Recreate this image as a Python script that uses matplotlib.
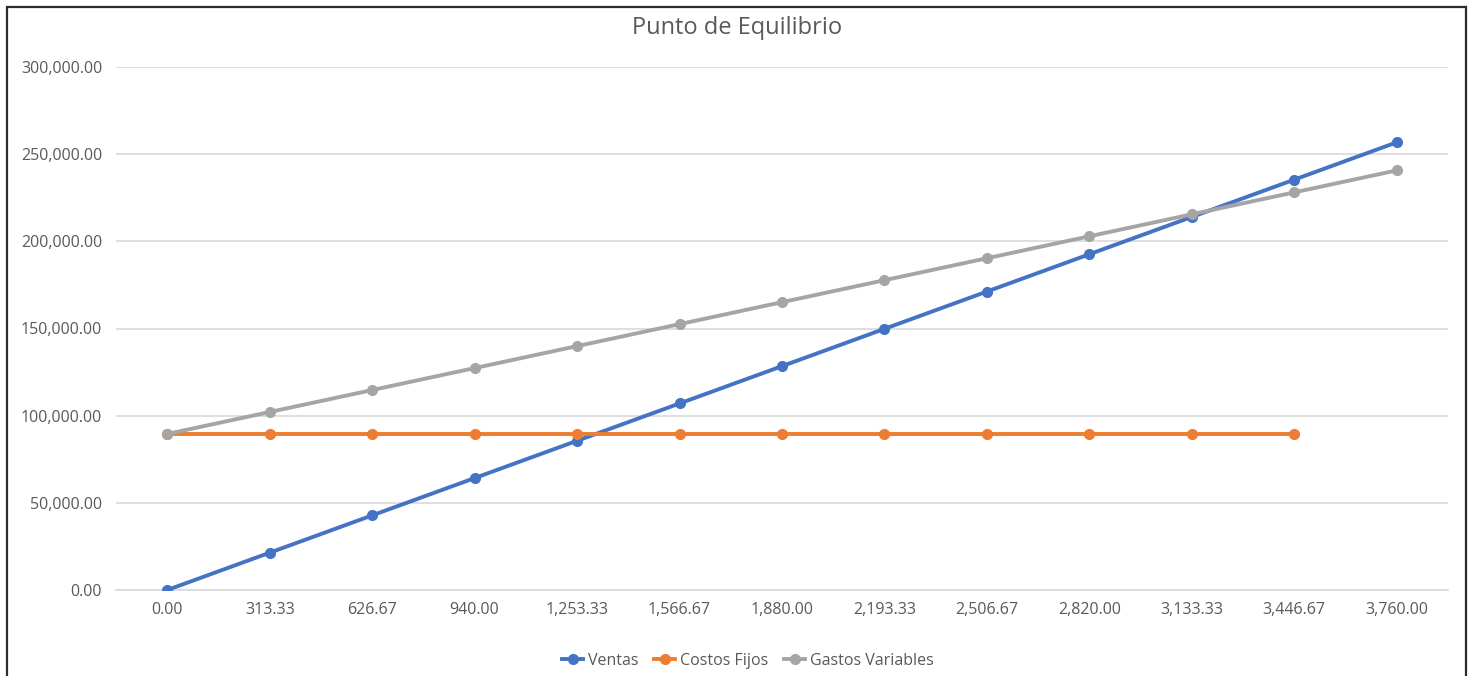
import matplotlib
matplotlib.use("Agg")
import matplotlib.pyplot as plt
from matplotlib.patches import Rectangle
from matplotlib.ticker import FuncFormatter

# Units (x categories)
unidades = ["0.00", "313.33", "626.67", "940.00", "1,253.33", "1,566.67", "1,880.00",
            "2,193.33", "2,506.67", "2,820.00", "3,133.33", "3,446.67", "3,760.00"]

ventas = [0, 21400, 42800, 64200, 85600, 107000, 128400, 149800,
          171200, 192600, 214000, 235400, 256800]
costos_fijos = [89500, 89500, 89500, 89500, 89500, 89500, 89500,
                89500, 89500, 89500, 89500, 89500]
gastos_variables = [89500, 102100, 114700, 127300, 139900, 152500, 165100,
                    177700, 190300, 202900, 215500, 228100, 240700]

series_names = ["Ventas", "Costos Fijos", "Gastos Variables"]
colors = ["#4472C4", "#ED7D31", "#A5A5A5"]
text_color = "#595959"
grid_color = "#D9D9D9"

plt.rcParams['font.family'] = ['Open Sans', 'DejaVu Sans']

fig = plt.figure(figsize=(14.76, 6.76), dpi=100)
ax = fig.add_axes([116 / 1476, (676 - 590) / 676, (1448 - 116) / 1476, (590 - 67) / 676])

x = list(range(len(unidades)))
ax.grid(axis="y", color=grid_color, linewidth=1.2, zorder=0)
for vals, name, c in zip([ventas, costos_fijos, gastos_variables], series_names, colors):
    ax.plot(x[:len(vals)], vals, color=c, linewidth=2.8, marker="o", markersize=7,
            label=name, zorder=3)

ax.set_xlim(-0.5, len(unidades) - 0.5)
ax.set_ylim(0, 300000)
ax.set_yticks(range(0, 300001, 50000))
ax.yaxis.set_major_formatter(FuncFormatter(lambda v, p: f"{v:,.2f}"))
ax.set_xticks(x)
ax.set_xticklabels(unidades)
ax.set_axisbelow(True)

for side in ["left", "right", "top"]:
    ax.spines[side].set_visible(False)
ax.spines["bottom"].set_color(grid_color)
ax.spines["bottom"].set_linewidth(1.2)
ax.tick_params(axis="both", length=0, labelsize=11.5, colors=text_color)
ax.tick_params(axis="y", pad=10)
ax.tick_params(axis="x", pad=9)

fig.text(737 / 1476, 1 - 28 / 676, "Punto de Equilibrio", ha="center", va="center",
         fontsize=17, color=text_color)

leg = fig.legend(loc="center", bbox_to_anchor=(748 / 1476, 1 - 661 / 676), ncol=3,
                 frameon=False, fontsize=11.5, handlelength=1.3, columnspacing=1.0,
                 handletextpad=0.3, labelcolor=text_color)

# Outer frame around the chart
fig.patches.append(Rectangle((7 / 1476, -0.02), (1466 - 7) / 1476, 1.02 - 7 / 676,
                             transform=fig.transFigure, fill=False,
                             edgecolor="#2b2b2b", linewidth=1.6))

fig.savefig("out.png", dpi=100, facecolor="white")
